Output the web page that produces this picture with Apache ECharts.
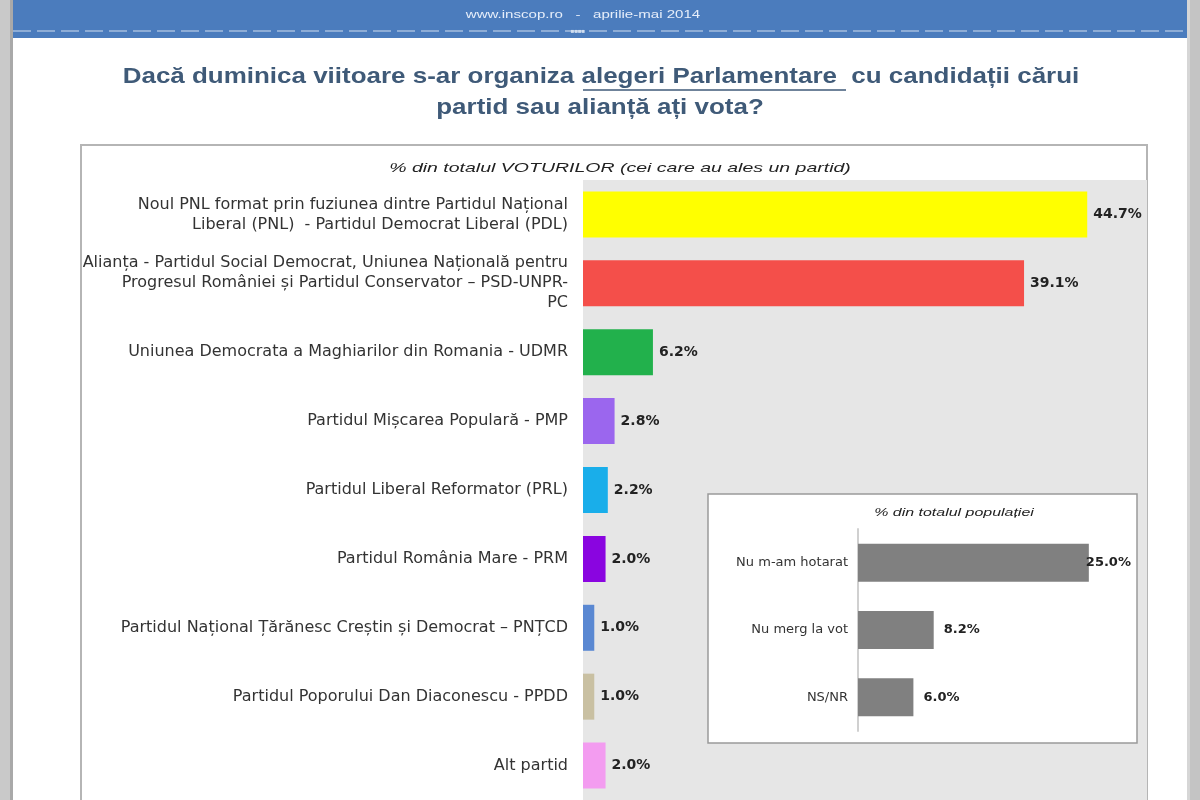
<!DOCTYPE html>
<html><head><meta charset="utf-8">
<script src="https://cdn.jsdelivr.net/npm/echarts@6/dist/echarts.min.js"></script>
<style>html,body{margin:0;padding:0;background:#fff}#c{width:1200px;height:800px}</style>
</head><body><div id="c"></div>
<script>
const parties = [
  "Noul PNL format prin fuziunea dintre Partidul Național\nLiberal (PNL)  - Partidul Democrat Liberal (PDL)",
  "Alianța - Partidul Social Democrat, Uniunea Națională pentru\nProgresul României și Partidul Conservator – PSD-UNPR-\nPC",
  "Uniunea Democrata a Maghiarilor din Romania - UDMR",
  "Partidul Mișcarea Populară - PMP",
  "Partidul Liberal Reformator (PRL)",
  "Partidul România Mare - PRM",
  "Partidul Național Țărănesc Creștin și Democrat – PNȚCD",
  "Partidul Poporului Dan Diaconescu - PPDD",
  "Alt partid"
];
const voteShares = [44.7, 39.1, 6.2, 2.8, 2.2, 2.0, 1.0, 1.0, 2.0];
const partyColors = ["#ffff00", "#f44f4a", "#22b14c", "#9b66ee", "#19aeea", "#8a05e0", "#5a88d2", "#c9c0a2", "#f39cf0"];

const popCategories = ["Nu m-am hotarat", "Nu merg la vot", "NS/NR"];
const popShares = [25.0, 8.2, 6.0];

const chart = echarts.init(document.getElementById('c'));
const FONT = "'Liberation Sans', Arial, sans-serif";
const WIDE = "'DejaVu Sans', sans-serif";

chart.setOption({
  animation: false,
  backgroundColor: '#ffffff',
  graphic: [
    {type:'rect', shape:{x:0,y:0,width:10,height:800}, style:{fill:'#c9c9c9'}, z:-10},
    {type:'rect', shape:{x:10,y:0,width:3,height:800}, style:{fill:'#a9a9a9'}, z:-10},
    {type:'rect', shape:{x:1187,y:0,width:3,height:800}, style:{fill:'#d6d6d6'}, z:-10},
    {type:'rect', shape:{x:1190,y:0,width:10,height:800}, style:{fill:'#c4c4c4'}, z:-10},
    {type:'rect', shape:{x:13,y:0,width:1174,height:38}, style:{fill:'#4b7cbd'}, z:-9},
    {type:'line', shape:{x1:13,y1:31,x2:1187,y2:31}, style:{stroke:'#8eadd6', lineWidth:2, lineDash:[18,6]}, z:-8},
    {type:'text', x:583, y:15, scaleX:1.37, style:{text:'www.inscop.ro   -   aprilie-mai 2014', fill:'#e6eefa', font:'11px '+FONT, align:'center', verticalAlign:'middle'}},
    {type:'text', x:578, y:31, style:{text:'■■■■', fill:'#d0def0', font:'6px '+FONT, align:'center', verticalAlign:'middle'}},
    {type:'text', x:601, y:77, scaleX:1.18, style:{text:'Dacă duminica viitoare s-ar organiza alegeri Parlamentare  cu candidații cărui', fill:'#3f5a78', font:'bold 22px '+FONT, align:'center', verticalAlign:'middle'}},
    {type:'text', x:600, y:108, scaleX:1.18, style:{text:'partid sau alianță ați vota?', fill:'#3f5a78', font:'bold 22px '+FONT, align:'center', verticalAlign:'middle'}},
    {type:'line', shape:{x1:583,y1:90,x2:846,y2:90}, style:{stroke:'#3f5a78', lineWidth:1.5}},
    {type:'rect', shape:{x:81,y:145,width:1066,height:680}, style:{fill:'#ffffff', stroke:'#b5b5b5', lineWidth:2}, z:-5},
    {type:'text', x:620, y:168, scaleX:1.5, style:{text:'% din totalul VOTURILOR (cei care au ales un partid)', fill:'#222', font:'italic 13px '+FONT, align:'center', verticalAlign:'middle'}},
    {type:'rect', shape:{x:708,y:494,width:429,height:249}, style:{fill:'#ffffff', stroke:'#9a9a9a', lineWidth:1.5}, z:5},
    {type:'text', x:954, y:513, z:6, scaleX:1.45, style:{text:'% din totalul populației', fill:'#222', font:'italic 11px '+FONT, align:'center', verticalAlign:'middle'}}
  ],
  grid: [
    {left:583, right:53, top:180, height:630, show:true, backgroundColor:'#e6e6e6', borderWidth:0, z:0},
    {left:858, right:65, top:529, height:202, z:10}
  ],
  xAxis: [
    {gridIndex:0, type:'value', min:0, max:50, show:false},
    {gridIndex:1, type:'value', min:0, max:30, show:false}
  ],
  yAxis: [
    {gridIndex:0, type:'category', inverse:true, data:parties,
     axisLine:{show:false}, axisTick:{show:false}, splitLine:{show:false},
     axisLabel:{color:'#333', fontFamily:WIDE, fontSize:16, lineHeight:20, margin:15, align:'right'}},
    {gridIndex:1, type:'category', inverse:true, data:popCategories, z:10,
     axisLine:{show:true, lineStyle:{color:'#d0d0d0', width:2}}, axisTick:{show:false},
     axisLabel:{color:'#333', fontFamily:WIDE, fontSize:13, margin:10}}
  ],
  series: [
    {type:'bar', xAxisIndex:0, yAxisIndex:0, barWidth:46, z:2,
     data: voteShares.map((v,i)=>({value:v, itemStyle:{color:partyColors[i]}})),
     label:{show:true, position:'right', distance:6, formatter:p=>p.value.toFixed(1)+'%', color:'#222', fontWeight:'bold', fontSize:14, fontFamily:WIDE}},
    {type:'bar', xAxisIndex:1, yAxisIndex:1, barWidth:38, z:10,
     itemStyle:{color:'#808080'},
     data: popShares.map((v,i)=>({value:v, label: i===0 ? {distance:-3} : {}})),
     label:{show:true, position:'right', distance:10, formatter:p=>p.value.toFixed(1)+'%', color:'#222', fontWeight:'bold', fontSize:13, fontFamily:WIDE}}
  ]
});
</script></body></html>
